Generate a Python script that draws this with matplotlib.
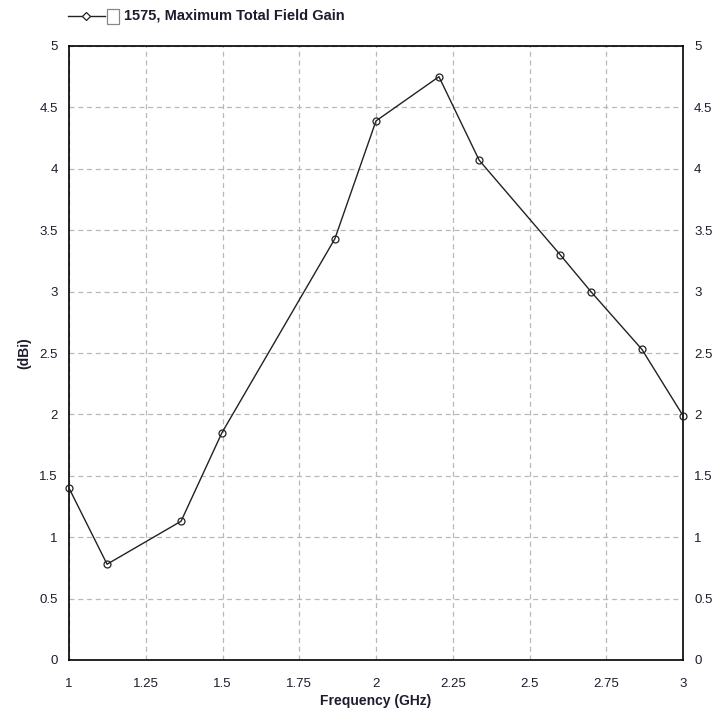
import matplotlib
matplotlib.use("Agg")
import matplotlib.pyplot as plt
from matplotlib.lines import Line2D
from matplotlib.patches import Rectangle

freq_ghz = [1.0, 1.124, 1.365, 1.498, 1.866, 2.0, 2.205, 2.336, 2.60, 2.70, 2.866, 3.0]
gain_dbi = [1.40, 0.78, 1.13, 1.85, 3.43, 4.39, 4.75, 4.07, 3.30, 3.00, 2.53, 1.99]
x_ticks = [1, 1.25, 1.5, 1.75, 2, 2.25, 2.5, 2.75, 3]
x_tick_labels = ["1", "1.25", "1.5", "1.75", "2", "2.25", "2.5", "2.75", "3"]
y_ticks = [0, 0.5, 1, 1.5, 2, 2.5, 3, 3.5, 4, 4.5, 5]
y_tick_labels = ["0", "0.5", "1", "1.5", "2", "2.5", "3", "3.5", "4", "4.5", "5"]
series_name = "1575, Maximum Total Field Gain"

plt.rcParams['font.family'] = ['Liberation Sans', 'DejaVu Sans']
txt_color = '#1c1c2e'

fig = plt.figure(figsize=(7.16, 7.09), dpi=100)
ax = fig.add_axes([69/716, 1-660/709, (683-69)/716, (660-46)/709])

ax.plot(freq_ghz, gain_dbi, color='#222222', lw=1.0, marker='o', ms=5,
        mfc='none', mec='#222222', mew=0.9, clip_on=False, zorder=3)

ax.set_xlim(1, 3)
ax.set_ylim(0, 5)
ax.set_xticks(x_ticks)
ax.set_xticklabels(x_tick_labels)
ax.set_yticks(y_ticks)
ax.set_yticklabels(y_tick_labels)
ax.tick_params(axis='both', length=0, labelsize=9.5, colors=txt_color, pad=8)
ax.tick_params(axis='x', pad=13)
ax.tick_params(axis='y', labelright=True, right=False)
ax.grid(True, color='#b8b8b8', ls=(0, (4, 3)), lw=0.9)
for s in ax.spines.values():
    s.set_color('black')
    s.set_linewidth(1.2)

ax.set_xlabel("Frequency (GHz)", fontsize=10, fontweight='bold', color=txt_color, labelpad=3)
ax.set_ylabel("(dBi)", fontsize=10, fontweight='bold', color=txt_color, labelpad=6)

# legend drawn at figure top
ly = 1 - 16/709
fig.add_artist(Line2D([68/716, 105/716], [ly, ly], color='#222222', lw=1.0,
                      transform=fig.transFigure))
fig.add_artist(Line2D([86/716], [ly], color='#222222', marker='D', ms=4,
                      mfc='white', mec='#222222', mew=0.9, transform=fig.transFigure))
fig.add_artist(Rectangle((107/716, 1-24/709), 12/716, 15/709, fill=False,
                         ec='#888888', lw=0.9, transform=fig.transFigure))
fig.text(124/716, ly, series_name, fontsize=10.5, fontweight='bold',
         color=txt_color, va='center', ha='left')

fig.savefig("out.png", dpi=100)
